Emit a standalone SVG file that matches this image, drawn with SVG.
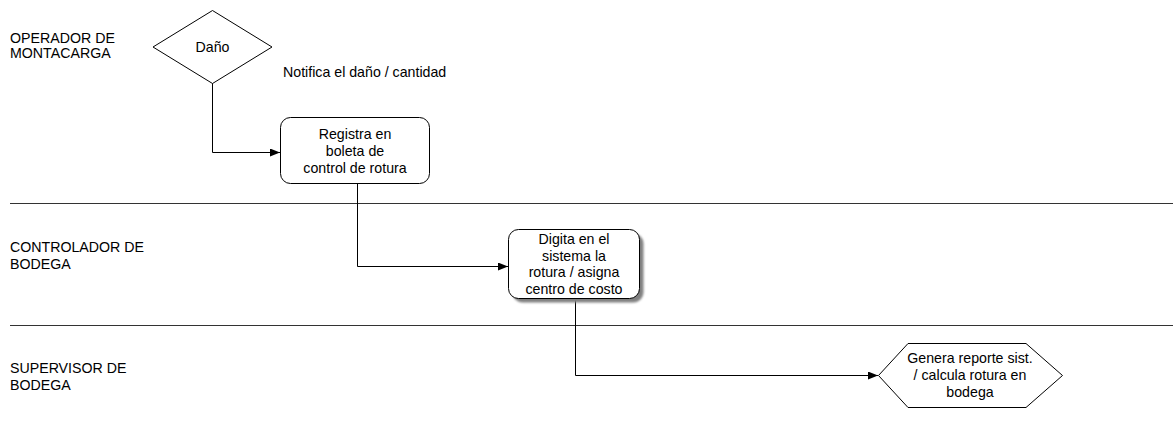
<svg xmlns="http://www.w3.org/2000/svg" width="1173" height="423" viewBox="0 0 1173 423">
  <style>
    text { font-family: "Liberation Sans", Arial, sans-serif; font-size: 14.2px; fill: #000; }
    .c { text-anchor: middle; }
    .lane { stroke: #333; stroke-width: 1; fill: none; }
    .shape { fill: #fff; stroke: #000; stroke-width: 1; }
    .edge { stroke: #000; stroke-width: 1; fill: none; marker-end: url(#arrow); }
  </style>
  <defs>
    <marker id="arrow" markerWidth="10" markerHeight="8" refX="10" refY="4" orient="auto" markerUnits="userSpaceOnUse">
      <path d="M0,0 L10,4 L0,8 Z" fill="#000"/>
    </marker>
    <filter id="soft" x="-10%" y="-10%" width="120%" height="120%">
      <feGaussianBlur stdDeviation="0.8"/>
    </filter>
  </defs>
  <rect width="1173" height="423" fill="#fff"/>

  <!-- swimlanes -->
  <g id="lanes">
    <line class="lane" x1="10" y1="203.5" x2="1173" y2="203.5"/>
    <line class="lane" x1="10" y1="325.5" x2="1173" y2="325.5"/>
    <text x="10" y="43">OPERADOR DE</text>
    <text x="10" y="58">MONTACARGA</text>
    <text x="10" y="252">CONTROLADOR DE</text>
    <text x="10" y="269">BODEGA</text>
    <text x="10" y="373">SUPERVISOR DE</text>
    <text x="10" y="390">BODEGA</text>
  </g>

  <!-- connectors -->
  <g id="connectors">
    <polyline class="edge" points="212.5,83 212.5,152.5 280,152.5"/>
    <polyline class="edge" points="357.5,183 357.5,266.5 508,266.5"/>
    <polyline class="edge" points="575.5,298 575.5,375.5 878,375.5"/>
    <text x="283" y="77">Notifica el daño / cantidad</text>
  </g>

  <g id="node-dano">
    <polygon class="shape" points="212.5,10.5 272,47 212.5,83.5 153,47"/>
    <text class="c" x="212.5" y="52">Daño</text>
  </g>

  <g id="node-registra">
    <rect class="shape" x="280.5" y="117.5" width="149" height="66" rx="10" ry="10"/>
    <text class="c" x="355" y="139">Registra en</text>
    <text class="c" x="355" y="156">boleta de</text>
    <text class="c" x="355" y="173">control de rotura</text>
  </g>

  <g id="node-digita">
    <rect x="512.5" y="233.5" width="131" height="69" rx="10" ry="10" fill="#808080" filter="url(#soft)"/>
    <rect class="shape" x="508.5" y="229.5" width="131" height="69" rx="10" ry="10"/>
    <text class="c" x="574" y="244">Digita en el</text>
    <text class="c" x="574" y="261">sistema la</text>
    <text class="c" x="574" y="277">rotura / asigna</text>
    <text class="c" x="574" y="294">centro de costo</text>
  </g>

  <g id="node-genera">
    <polygon class="shape" points="878.5,375.5 908,343.5 1026,343.5 1062.5,375.5 1026,407.5 908,407.5"/>
    <text class="c" x="970" y="363">Genera reporte sist.</text>
    <text class="c" x="970" y="380">/ calcula rotura en</text>
    <text class="c" x="970" y="397">bodega</text>
  </g>
</svg>
